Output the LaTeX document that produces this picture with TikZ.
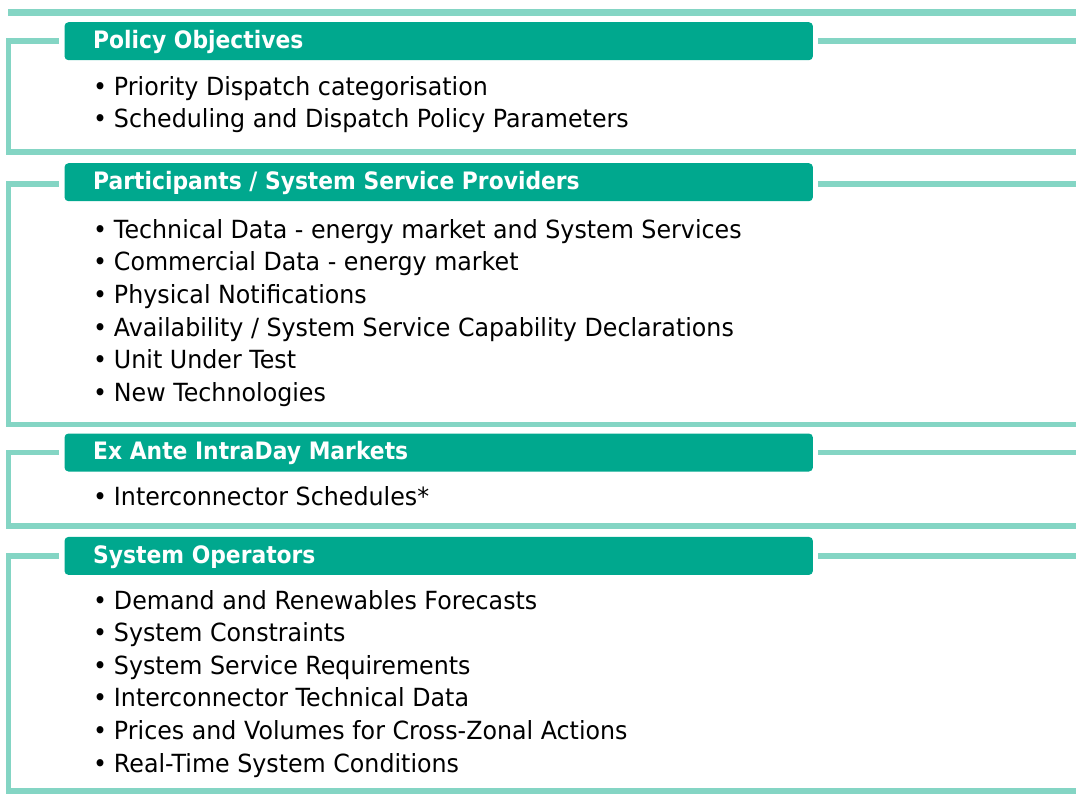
\documentclass[tikz,border=0pt]{standalone}
\usepackage{fontspec}
\setmainfont{DejaVu Sans}[FakeStretch=0.95]
\newfontfamily\hfont{DejaVu Sans}[FakeStretch=0.91]
\definecolor{frame}{RGB}{132,213,196}
\definecolor{head}{RGB}{0,168,142}
\newcommand{\blt}[1]{\makebox[20.8pt][l]{•}#1}
\begin{document}
\begin{tikzpicture}[x=1pt,y=-1pt,
  frameline/.style={draw=frame,line width=5.3pt,line join=miter},
  headbox/.style={fill=head,rounded corners=4pt,draw=none,anchor=north west,minimum width=748.4pt,minimum height=38pt,inner sep=0pt},
  htext/.style={anchor=base west,inner sep=0pt,text=white,font=\hfont\fontsize{24}{28}\selectfont\bfseries},
  item/.style={anchor=base west,inner sep=0pt,text=black,font=\fontsize{25}{30}\selectfont}]
\useasboundingbox (0,0) rectangle (1076,793);
% frame lines
\draw[frameline,line width=7pt] (8.3,12) -- (1076,12);
\draw[frameline] (58.7,41) -- (8.3,41) -- (8.3,152) -- (1076,152);
\draw[frameline] (818,41) -- (1076,41);
\draw[frameline] (58.7,184) -- (8.3,184) -- (8.3,424.7) -- (1076,424.7);
\draw[frameline] (818,184) -- (1076,184);
\draw[frameline] (58.7,452.3) -- (8.3,452.3) -- (8.3,526) -- (1076,526);
\draw[frameline] (818,452.3) -- (1076,452.3);
\draw[frameline] (58.7,556) -- (8.3,556) -- (8.3,791) -- (1076,791);
\draw[frameline] (818,556) -- (1076,556);
% headers
\node[headbox] (h1) at (64.3,22) {};
\node[htext] (h1t) at (93,48.5) {Policy Objectives};
\node[headbox] (h2) at (64.3,163) {};
\node[htext] (h2t) at (93,189.5) {Participants / System Service Providers};
\node[headbox] (h3) at (64.3,433.3) {};
\node[htext] (h3t) at (93,459.5) {Ex Ante IntraDay Markets};
\node[headbox] (h4) at (64.3,536.7) {};
\node[htext] (h4t) at (93,563.5) {System Operators};
% items
\node[item] (a1) at (93,95) {\blt{Priority Dispatch categorisation}};
\node[item] (a2) at (93,127.5) {\blt{Scheduling and Dispatch Policy Parameters}};
\node[item] (b1) at (93,238) {\blt{Technical Data - energy market and System Services}};
\node[item] (b2) at (93,270.7) {\blt{Commercial Data - energy market}};
\node[item] (b3) at (93,303.4) {\blt{Physical Notifications}};
\node[item] (b4) at (93,336.1) {\blt{Availability / System Service Capability Declarations}};
\node[item] (b5) at (93,368.8) {\blt{Unit Under Test}};
\node[item] (b6) at (93,401.5) {\blt{New Technologies}};
\node[item] (c1) at (93,505) {\blt{Interconnector Schedules*}};
\node[item] (d1) at (93,609) {\blt{Demand and Renewables Forecasts}};
\node[item] (d2) at (93,641.6) {\blt{System Constraints}};
\node[item] (d3) at (93,674.2) {\blt{System Service Requirements}};
\node[item] (d4) at (93,706.8) {\blt{Interconnector Technical Data}};
\node[item] (d5) at (93,739.4) {\blt{Prices and Volumes for Cross-Zonal Actions}};
\node[item] (d6) at (93,772) {\blt{Real-Time System Conditions}};
\end{tikzpicture}
\end{document}
